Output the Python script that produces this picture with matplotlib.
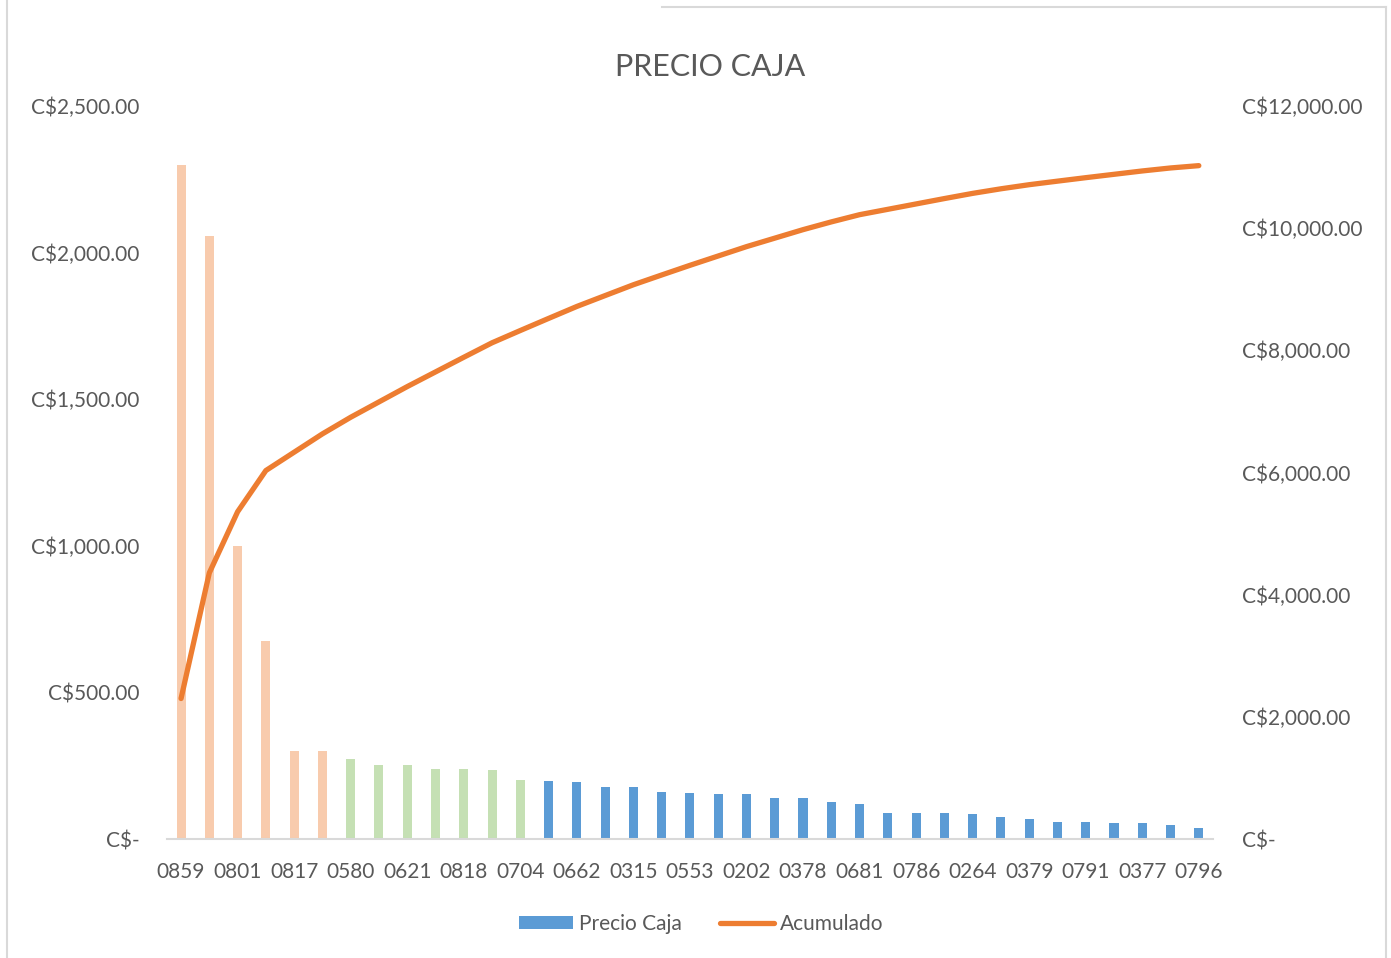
import numpy as np
import matplotlib.pyplot as plt
from matplotlib.patches import Patch
from matplotlib.lines import Line2D
from matplotlib.ticker import FuncFormatter

# Precio por caja, ordenado de mayor a menor
precio_caja = [2300, 2057, 1000, 675, 300, 300,
               272, 251, 251, 240, 240, 237, 201,
               198, 196, 178, 177, 160, 158, 153, 153, 139, 139, 127, 118,
               88, 88, 88, 85, 75, 67, 58, 57, 55, 55, 49, 38]
# grupo de cada barra: A (mayor peso), B, C
grupo = ["A"] * 6 + ["B"] * 7 + ["C"] * 24
# etiquetas que se muestran en el eje (una de cada dos)
etiquetas = ["0859", "0801", "0817", "0580", "0621", "0818", "0704", "0662",
             "0315", "0553", "0202", "0378", "0681", "0786", "0264", "0379",
             "0791", "0377", "0796"]

colores_grupo = {"A": "#F8CBAD", "B": "#C5E0B4", "C": "#5B9BD5"}
gris = "#595959"

acumulado = np.cumsum(precio_caja)
x = np.arange(len(precio_caja))

plt.rcParams["font.family"] = ["Lato", "DejaVu Sans"]

fig = plt.figure(figsize=(13.91, 9.58), dpi=100)
ax = fig.add_axes([0.120, 0.1242, 0.752, 0.7652])
ax2 = ax.twinx()

ax.bar(x, precio_caja, width=0.32, color=[colores_grupo[g] for g in grupo])
ax2.plot(x, acumulado, color="#ED7D31", linewidth=3.8, solid_capstyle="round",
         solid_joinstyle="round")

ax.set_xlim(-0.5, len(precio_caja) - 0.5)
ax.set_ylim(0, 2500)
ax2.set_ylim(0, 12000)
ax.set_yticks(np.arange(0, 2501, 500))
ax2.set_yticks(np.arange(0, 12001, 2000))


def moneda(v, pos):
    if v == 0:
        return "C$-"
    return "C${:,.2f}".format(v)


ax.yaxis.set_major_formatter(FuncFormatter(moneda))
ax2.yaxis.set_major_formatter(FuncFormatter(moneda))

ax.set_xticks(x[::2])
ax.set_xticklabels(etiquetas)

for a in (ax, ax2):
    for s in a.spines.values():
        s.set_visible(False)
    a.tick_params(length=0, colors=gris, labelsize=15)
ax.tick_params(axis="y", pad=20)
ax2.tick_params(axis="y", pad=21)
ax.tick_params(axis="x", pad=16.5)
ax.spines["bottom"].set_visible(True)
ax.spines["bottom"].set_color("#D9D9D9")
ax.spines["bottom"].set_linewidth(1.5)

fig.text(0.5104, 0.930, "PRECIO CAJA", ha="center", va="center", fontsize=22, color=gris)

handles = [Patch(facecolor="#5B9BD5", label="Precio Caja"),
           Line2D([0], [0], color="#ED7D31", linewidth=3.8, solid_capstyle="round",
                  label="Acumulado")]
fig.legend(handles=handles, loc="center", bbox_to_anchor=(0.504, 0.0355), ncol=2,
           frameon=False, fontsize=15, labelcolor=gris, handlelength=2.6,
           handleheight=0.6, handletextpad=0.3, columnspacing=1.8)

# borde del area del grafico
borde = "#D9D9D9"
fig.add_artist(Line2D([7 / 1391, 7 / 1391], [0, 1], transform=fig.transFigure, color=borde, lw=1.5))
fig.add_artist(Line2D([1386 / 1391, 1386 / 1391], [0, 1 - 7 / 958], transform=fig.transFigure, color=borde, lw=1.5))
fig.add_artist(Line2D([662 / 1391, 1386 / 1391], [1 - 7 / 958, 1 - 7 / 958], transform=fig.transFigure, color=borde, lw=1.5))

fig.savefig("out.png", dpi=100)
